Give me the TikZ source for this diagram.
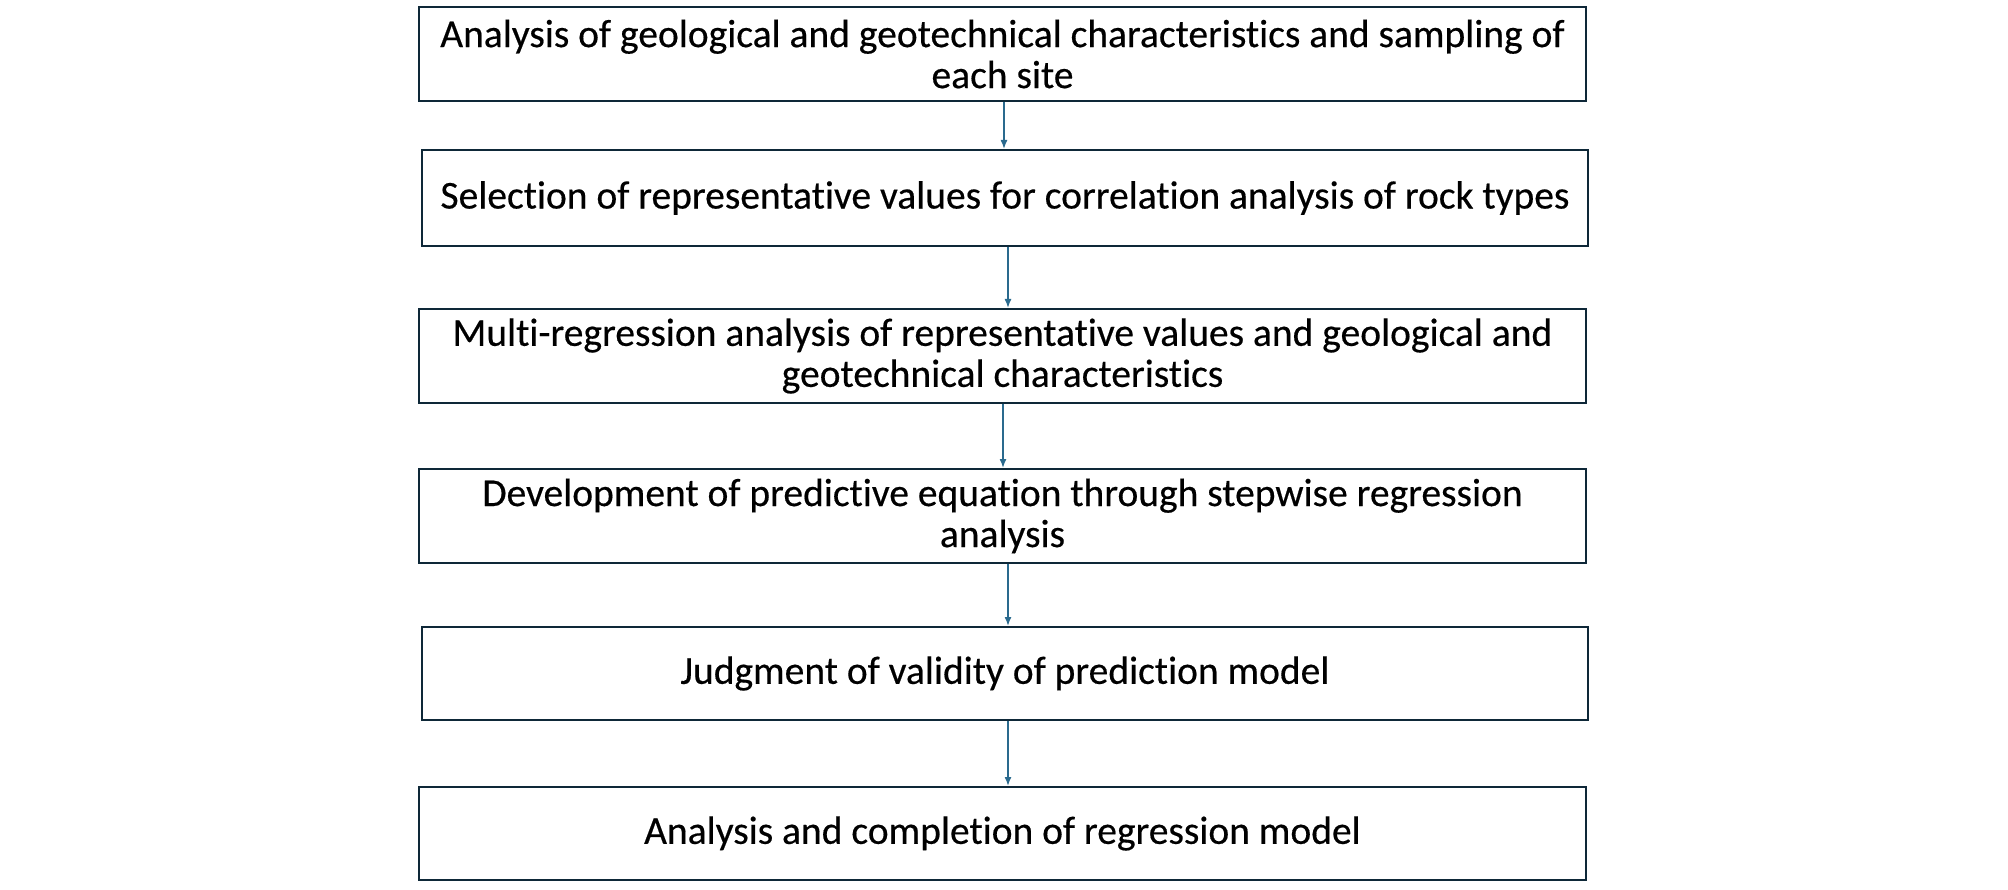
\documentclass[tikz,border=0pt]{standalone}
\usepackage{fontspec}
\setmainfont{Carlito}[Ligatures={NoCommon},FakeBold=0.4]
\usetikzlibrary{arrows.meta}
\definecolor{boxline}{HTML}{0E2838}
\definecolor{arrowblue}{HTML}{2A6A8E}
\tikzset{
  stepbox/.style={draw=boxline, line width=2pt, fill=white, inner sep=0pt,
    align=center, font=\fontsize{39.5}{41}\selectfont},
  flowarrow/.style={draw=arrowblue, line width=1.5pt,
    -{Latex[length=9pt,width=7pt]}}
}
\begin{document}
\begin{tikzpicture}[x=1pt,y=-1pt]
\useasboundingbox (0,0) rectangle (2008,890);
\node[stepbox, minimum width=1167pt, minimum height=94pt] (b1) at (1002.5,54)
  {Analysis of geological and geotechnical characteristics and sampling of\\each site};
\node[stepbox, minimum width=1166pt, minimum height=96pt] (b2) at (1005,198)
  {Selection of representative values for correlation analysis of rock types};
\node[stepbox, minimum width=1167pt, minimum height=94pt] (b3) at (1002.5,356)
  {Multi-regression analysis of representative values and geological and\\geotechnical characteristics};
\node[stepbox, minimum width=1167pt, minimum height=94pt] (b4) at (1002.5,516)
  {Development of predictive equation through stepwise regression\\analysis};
\node[stepbox, minimum width=1166pt, minimum height=93pt] (b5) at (1005,673.5)
  {Judgment of validity of prediction model};
\node[stepbox, minimum width=1167pt, minimum height=93pt] (b6) at (1002.5,833.5)
  {Analysis and completion of regression model};
\draw[flowarrow] ([xshift=1.5pt]b1.south) -- ([xshift=-1pt]b2.north);
\draw[flowarrow] ([xshift=3pt]b2.south) -- ([xshift=5.5pt]b3.north);
\draw[flowarrow] ([xshift=0.5pt]b3.south) -- ([xshift=0.5pt]b4.north);
\draw[flowarrow] ([xshift=5.5pt]b4.south) -- ([xshift=3pt]b5.north);
\draw[flowarrow] ([xshift=3pt]b5.south) -- ([xshift=5.5pt]b6.north);
\end{tikzpicture}
\end{document}
